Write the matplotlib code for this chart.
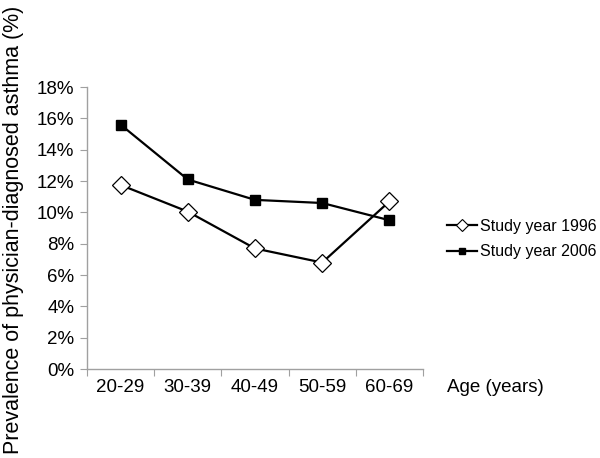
import matplotlib
matplotlib.use("Agg")
import matplotlib.pyplot as plt
from matplotlib.lines import Line2D

categories = ["20-29", "30-39", "40-49", "50-59", "60-69"]
y1996 = [11.75, 10.05, 7.7, 6.8, 10.7]
y2006 = [15.6, 12.1, 10.8, 10.6, 9.5]
yticks = [0, 2, 4, 6, 8, 10, 12, 14, 16, 18]
ytick_labels = [f"{v}%" for v in yticks]

plt.rcParams['font.family'] = ['Liberation Sans', 'DejaVu Sans']
fig = plt.figure(figsize=(6.0, 4.58), dpi=100)
ax = fig.add_axes([0.145, 0.194, 0.56, 0.616])

x = list(range(len(categories)))
ax.plot(x, y1996, color='black', lw=1.6, marker='D', markersize=9,
        markerfacecolor='white', markeredgecolor='black', markeredgewidth=0.9, zorder=3)
ax.plot(x, y2006, color='black', lw=1.6, marker='s', markersize=6.5,
        markerfacecolor='black', markeredgecolor='black', zorder=3)

ax.set_xlim(-0.5, len(categories) - 0.5)
ax.set_ylim(0, 18)
ax.set_yticks(yticks)
ax.set_yticklabels(ytick_labels, fontsize=13.5)
ax.set_xticks([i - 0.5 for i in range(len(categories) + 1)])
ax.set_xticklabels([])
ax.set_xticks(x, minor=True)
ax.set_xticklabels(categories, minor=True, fontsize=13.5)
ax.tick_params(axis='x', which='minor', length=0, pad=7)
ax.tick_params(axis='x', which='major', length=5, color='#a0a0a0')
ax.tick_params(axis='y', length=5, color='#a0a0a0', pad=4)

for s in ['top', 'right']:
    ax.spines[s].set_visible(False)
for s in ['left', 'bottom']:
    ax.spines[s].set_color('#a0a0a0')
    ax.spines[s].set_linewidth(1.0)

fig.text(0.022, 0.497, "Prevalence of physician-diagnosed asthma (%)", rotation=90,
         fontsize=15.5, ha='center', va='center')
fig.text(0.745, 0.155, "Age (years)", fontsize=13.5, ha='left', va='center')

handles = [
    Line2D([], [], color='black', lw=1.6, marker='D', markersize=6,
           markerfacecolor='white', markeredgecolor='black', markeredgewidth=0.8),
    Line2D([], [], color='black', lw=1.6, marker='s', markersize=5,
           markerfacecolor='black'),
]
fig.legend(handles, ["Study year 1996", "Study year 2006"], loc='center left',
           bbox_to_anchor=(0.734, 0.478), frameon=False, fontsize=11.5,
           borderaxespad=0, handlelength=1.9, handletextpad=0.2, labelspacing=0.65)

fig.savefig("out.png", dpi=100)
